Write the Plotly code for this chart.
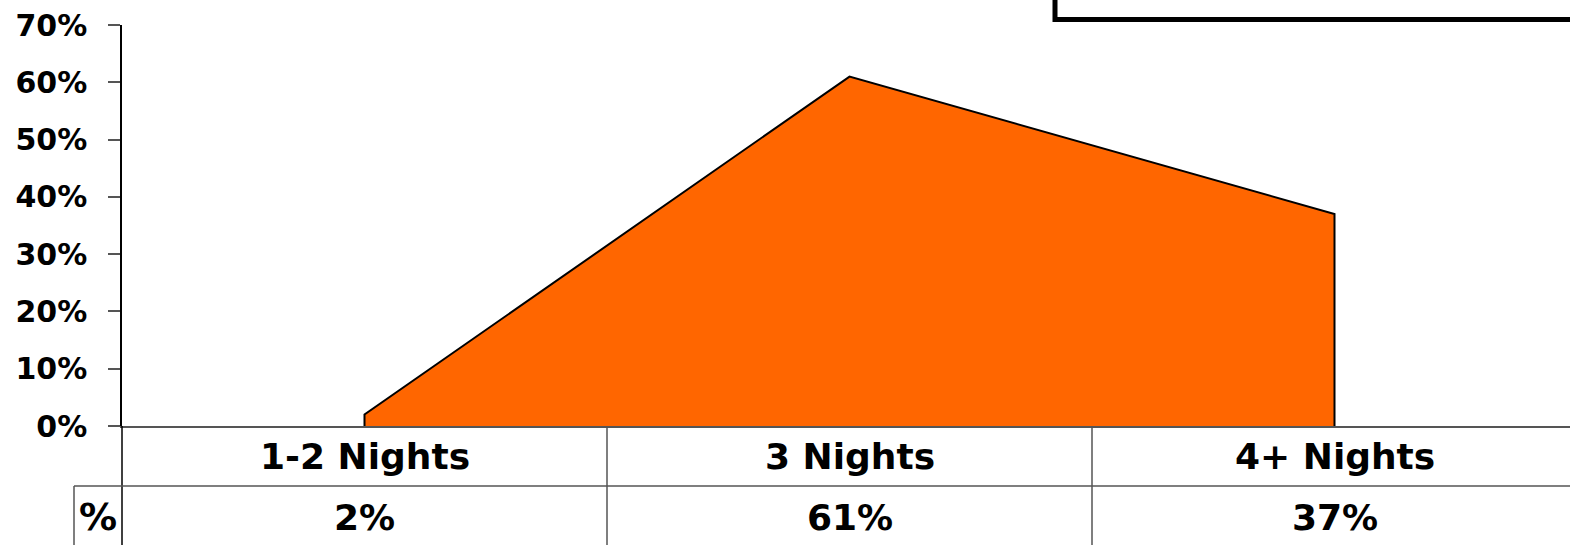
import plotly.graph_objects as go

categories = ["1-2 Nights", "3 Nights", "4+ Nights"]
values = [0.02, 0.61, 0.37]
value_labels = ["2%", "61%", "37%"]
row_header = "%"
y_ticks = [0, 0.1, 0.2, 0.3, 0.4, 0.5, 0.6, 0.7]
y_tick_labels = ["0%", "10%", "20%", "30%", "40%", "50%", "60%", "70%"]

W, H = 1570, 545
ML, MT, MB = 122, 25, 119
plot_w = W - ML
plot_h = H - MT - MB

def py(px):  # pixel y from top -> paper y
    return (H - MB - px) / plot_h

def pxp(px):  # pixel x -> paper x
    return (px - ML) / plot_w

FONT = dict(family="DejaVu Sans", color="black", weight="bold")

idx = list(range(len(categories)))
poly_x = [idx[0]] + idx + [idx[-1]]
poly_y = [0] + values + [0]

fig = go.Figure()
fig.add_trace(go.Scatter(
    x=poly_x, y=poly_y, fill="toself", fillcolor="#FF6600",
    mode="lines", line=dict(color="black", width=2), hoverinfo="skip",
    showlegend=False,
))

fig.update_xaxes(range=[-0.5, 2.5 - 3 * 7 / (plot_w + 7)], showgrid=False,
                 zeroline=False, showticklabels=False, ticks="",
                 showline=True, linecolor="#555555", linewidth=2)
fig.update_yaxes(range=[0, 0.7], tickvals=y_ticks, ticktext=y_tick_labels,
                 showgrid=False, zeroline=False, showline=True,
                 linecolor="black", linewidth=1.5, ticks="outside",
                 ticklen=12, tickcolor="#555555", tickwidth=1.5,
                 tickfont=dict(size=30, **FONT), ticklabelstandoff=15)

shapes = []
line_c = dict(color="#555555", width=1.5)
for b in [0.5, 1.5]:
    shapes.append(dict(type="line", xref="x", yref="paper", x0=b, x1=b,
                       y0=0, y1=py(H + 5), line=line_c))
shapes.append(dict(type="line", xref="paper", yref="paper", x0=0, x1=0,
                   y0=0, y1=py(H + 5), line=dict(color="black", width=1.5)))
shapes.append(dict(type="line", xref="paper", yref="paper", x0=pxp(74), x1=1.01,
                   y0=py(486), y1=py(486), line=line_c))
shapes.append(dict(type="line", xref="paper", yref="paper", x0=pxp(74), x1=pxp(74),
                   y0=py(486), y1=py(H + 5), line=line_c))
# legend box (cut off at top and right)
shapes.append(dict(type="rect", xref="paper", yref="paper", x0=pxp(1055), x1=1.05,
                   y0=py(19.5), y1=py(-40), line=dict(color="black", width=5),
                   fillcolor="rgba(0,0,0,0)"))

annotations = []
for i, (c, v) in enumerate(zip(categories, value_labels)):
    annotations.append(dict(x=i, y=py(456), xref="x", yref="paper", yanchor="middle",
                            xanchor="center", text=c, showarrow=False,
                            font=dict(size=36, **FONT)))
    annotations.append(dict(x=i, y=py(517), xref="x", yref="paper", yanchor="middle",
                            xanchor="center", text=v, showarrow=False,
                            font=dict(size=36, **FONT)))
annotations.append(dict(x=pxp(98), y=py(517), xref="paper", yref="paper", yanchor="middle",
                        xanchor="center", text=row_header, showarrow=False,
                        font=dict(size=38, **FONT)))

fig.update_layout(
    width=W, height=H, margin=dict(l=ML, r=0, t=MT, b=MB),
    paper_bgcolor="white", plot_bgcolor="white",
    shapes=shapes, annotations=annotations, showlegend=False,
)
fig.write_html("out.html", config={"displayModeBar": False},
               post_script="document.body.style.margin='0';document.body.style.overflow='hidden';")
